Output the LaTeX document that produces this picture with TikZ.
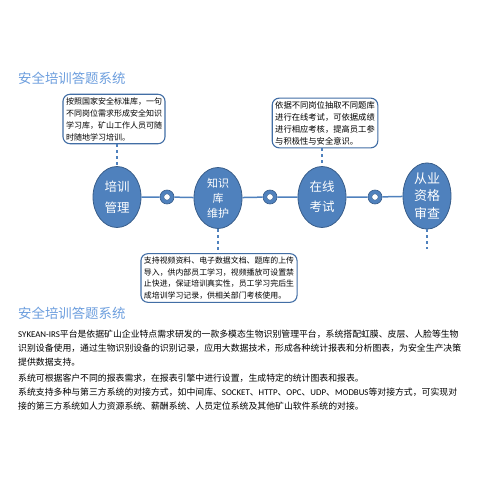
\documentclass[tikz,border=0pt]{standalone}
\usepackage{fontspec}
\usetikzlibrary{positioning,shapes.geometric}
\newfontfamily\cjk{Noto Sans CJK SC}
\newfontfamily\lat{Carlito}
\definecolor{titleblue}{RGB}{108,158,222}
\definecolor{circblue}{RGB}{79,129,189}
\definecolor{circborder}{RGB}{56,93,138}
\definecolor{boxborder}{RGB}{66,110,165}
\definecolor{lineblue}{RGB}{79,129,189}

\begin{document}
\begin{tikzpicture}[x=1pt,y=-1pt,
    stepcirc/.style={ellipse,draw=circborder,fill=circblue,line width=0.8pt,minimum width=48pt,minimum height=61pt,inner sep=0pt,text=white,align=center},
    ring/.style={circle,draw=circborder,fill=circblue,line width=0.6pt,minimum size=14pt,inner sep=0pt,
      path picture={\fill[white,draw=circborder,line width=0.4pt] (path picture bounding box.center) circle (3.2pt);}},
    notebox/.style={draw=boxborder,fill=white,rounded corners=7pt,line width=1.1pt,inner sep=3pt,align=left},
    link/.style={draw=lineblue,line width=1.5pt},
    dashlink/.style={draw=lineblue,dashed,line width=1.3pt},
    title/.style={text=titleblue,inner sep=0pt,anchor=west,font=\cjk\fontsize{13.4}{16}\selectfont}]
  \useasboundingbox[fill=white] (0,0) rectangle (484,484);
  \node[title] (t1) at (18,78) {安全培训答题系统};
  % steps on the time line
  \node[stepcirc,font=\cjk\fontsize{12.5}{21}\selectfont] (c1) at (117,197) {培训\\管理};
  \node[ring] (r1) at (167,197) {};
  \node[stepcirc,font=\cjk\fontsize{11}{15}\selectfont] (c2) at (218,198) {知识\\库\\维护};
  \node[ring] (r2) at (270,197) {};
  \node[stepcirc,font=\cjk\fontsize{12.5}{20}\selectfont] (c3) at (322,197) {在线\\考试};
  \node[ring] (r3) at (375,197) {};
  \node[stepcirc,font=\cjk\fontsize{13}{17.5}\selectfont] (c4) at (427,196) {从业\\资格\\审查};
  \draw[link] (c1) -- (r1) -- (c2) -- (r2) -- (c3) -- (r3) -- (c4);
  % note boxes
  \node[notebox,font=\cjk\fontsize{8}{12}\selectfont] (b1) at (114,119) {按照国家安全标准库，一句\\不同岗位需求形成安全知识\\学习库，矿山工作人员可随\\时随地学习培训。};
  \node[notebox,font=\cjk\fontsize{8.3}{12}\selectfont] (b3) at (325,123) {依据不同岗位抽取不同题库\\进行在线考试，可依据成绩\\进行相应考核，提高员工参\\与积极性与安全意识。};
  \node[notebox,font=\cjk\fontsize{7.9}{11.7}\selectfont] (b2) at (219,278) {支持视频资料、电子数据文档、题库的上传\\导入，供内部员工学习，视频播放可设置禁\\止快进，保证培训真实性，员工学习完后生\\成培训学习记录，供相关部门考核使用。};
  \coordinate (tail) at (427,249);
  \draw[dashlink] (b1.south -| c1.north) -- (c1.north);
  \draw[dashlink] (b3.south -| c3.north) -- (c3.north);
  \draw[dashlink] (c2.south) -- (b2.north -| c2.south);
  \draw[dashlink] (c4.south) -- (tail);
  % description
  \node[title] (t2) at (18,313) {安全培训答题系统};
  \node[anchor=north west,inner sep=0pt,align=left,font=\cjk\fontsize{8.86}{14}\selectfont] (desc) at (18,330)
    {{\lat SYKEAN-IRS}平台是依据矿山企业特点需求研发的一款多模态生物识别管理平台，系统搭配虹膜、皮层、人脸等生物\\
     识别设备使用，通过生物识别设备的识别记录，应用大数据技术，形成各种统计报表和分析图表，为安全生产决策\\
     提供数据支持。\\[2pt]
     系统可根据客户不同的报表需求，在报表引擎中进行设置，生成特定的统计图表和报表。\\
     系统支持多种与第三方系统的对接方式，如中间库、{\lat SOCKET}、{\lat HTTP}、{\lat OPC}、{\lat UDP}、{\lat MODBUS}等对接方式，可实现对\\
     接的第三方系统如人力资源系统、薪酬系统、人员定位系统及其他矿山软件系统的对接。};
\end{tikzpicture}
\end{document}
